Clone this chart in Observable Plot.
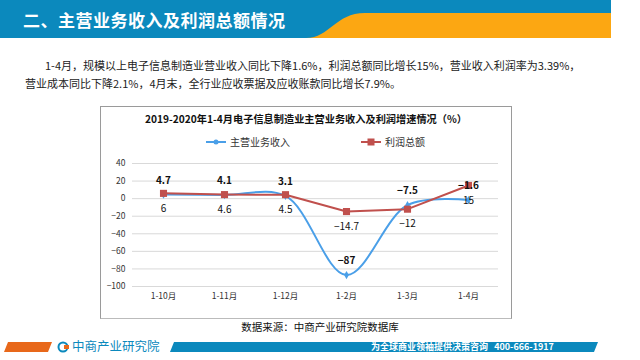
<!DOCTYPE html>
<html><head><meta charset="utf-8">
<script src="https://cdn.jsdelivr.net/npm/d3@7"></script>
<script src="https://cdn.jsdelivr.net/npm/@observablehq/plot@0.6"></script>
<style>
body{margin:0;width:640px;height:360px;position:relative;overflow:hidden;background:#fff;font-family:"Noto Sans CJK SC","Noto Sans",sans-serif;}
.abs{position:absolute;}
</style></head><body>
<svg class="abs" style="left:0;top:0" width="640" height="42">
  <rect x="0" y="0" width="611" height="38" fill="#0b89bd"/>
  <path d="M306,38 C330,38 335,13 365,13 L611,13 L611,38 Z" fill="#fca712"/>
</svg>
<div class="abs" style="left:23px;top:7px;color:#fff;font-size:17px;font-weight:bold;letter-spacing:0.5px;">二、主营业务收入及利润总额情况</div>
<div class="abs" style="left:45px;top:57px;font-size:11px;color:#222;white-space:nowrap;">1-4月，规模以上电子信息制造业营业收入同比下降1.6%，利润总额同比增长15%，营业收入利润率为3.39%，</div>
<div class="abs" style="left:25px;top:75px;font-size:11px;color:#222;white-space:nowrap;">营业成本同比下降2.1%，4月末，全行业应收票据及应收账款同比增长7.9%。</div>
<div class="abs" style="left:100px;top:106px;width:410px;height:211px;border:1px solid #9a9a9a;border-bottom-color:#bbb;"></div>
<div class="abs" style="left:100px;top:111px;width:412px;text-align:center;font-size:10.2px;font-weight:bold;color:#111;white-space:nowrap;">2019-2020年1-4月电子信息制造业主营业务收入及利润增速情况（%）</div>
<div class="abs" style="left:205px;top:134px;font-size:10px;color:#333;white-space:nowrap;display:flex;align-items:center;">
  <svg width="22" height="10"><line x1="1" x2="21" y1="5" y2="5" stroke="#4a9fe8" stroke-width="2"/><circle cx="11" cy="5" r="2.5" fill="#4a9fe8"/></svg>
  <span style="margin-left:3px">主营业务收入</span>
  <svg width="22" height="10" style="margin-left:70px"><line x1="1" x2="21" y1="5" y2="5" stroke="#c0504d" stroke-width="2"/><rect x="7.5" y="1.5" width="7" height="7" fill="#c0504d"/></svg>
  <span style="margin-left:3px">利润总额</span>
</div>
<div id="chart" class="abs" style="left:100px;top:148px;"></div>
<div class="abs" style="left:0;top:319px;width:640px;text-align:center;font-size:10.5px;color:#111;">数据来源：中商产业研究院数据库</div>
<svg class="abs" style="left:0;top:340px" width="640" height="20">
  <polygon points="8,2 52,2 48,12 4,12" fill="#e8681a"/>
  <polygon points="174,2 598,2 594,12 170,12" fill="#0b89bd"/>
  <circle cx="63" cy="7" r="4.5" fill="none" stroke="#0b89bd" stroke-width="2"/>
  <rect x="64" y="5" width="5" height="4" fill="#e8681a"/>
</svg>
<div class="abs" style="left:72px;top:339px;font-size:12.5px;color:#0b89bd;white-space:nowrap;line-height:14px;">中商产业研究院</div>
<div class="abs" style="left:371px;top:341px;font-size:9px;font-weight:bold;color:#fff;white-space:nowrap;line-height:11px;">为全球商业领袖提供决策咨询&nbsp;&nbsp;&nbsp;400-666-1917</div>
<script>
const categories = ["1-10月","1-11月","1-12月","1-2月","1-3月","1-4月"];
const revenue = [4.7, 4.1, 3.1, -87, -7.5, -1.6];
const profit = [6, 4.6, 4.5, -14.7, -12, 15];
const revenueLabels = ["4.7","4.1","3.1","-87","-7.5","-1.6"];
const profitLabels = ["6","4.6","4.5","-14.7","-12","15"];
const yTicks = [40,20,0,-20,-40,-60,-80,-100];

const rev = categories.map((c,i)=>({c, v: revenue[i], l: revenueLabels[i]}));
const pro = categories.map((c,i)=>({c, v: profit[i], l: profitLabels[i]}));

const chart = Plot.plot({
  width: 410, height: 160,
  marginLeft: 32, marginRight: 12, marginTop: 15, marginBottom: 22,
  style: {fontFamily: '"Noto Sans CJK SC", sans-serif', fontSize: "8.5px", color: "#333", background: "transparent"},
  x: {type: "point", domain: categories, padding: 0.5, label: null, tickSize: 0, tickPadding: 6},
  y: {domain: [-100, 40], ticks: yTicks, label: null, tickSize: 0, tickPadding: 7, tickFormat: d => d < 0 ? "−" + Math.abs(d) : String(d)},
  marks: [
    Plot.gridY(yTicks, {stroke: "#d9d9d9", strokeOpacity: 1, strokeWidth: 1}),
    Plot.line(rev, {x: "c", y: "v", stroke: "#4a9fe8", strokeWidth: 2, curve: "catmull-rom"}),
    Plot.dot(rev, {x: "c", y: "v", fill: "#4a9fe8", r: 2.5, symbol: "diamond"}),
    Plot.line(pro, {x: "c", y: "v", stroke: "#c0504d", strokeWidth: 2}),
    Plot.dot(pro, {x: "c", y: "v", fill: "#c0504d", r: 4, symbol: "square"}),
    Plot.text(rev, {x: "c", y: "v", text: d => d.l.replace("-", "−"), dy: -14, fill: "#111", fontWeight: "bold", fontSize: 10}),
    Plot.text(pro, {x: "c", y: "v", text: d => d.l.replace("-", "−"), dy: 15, fill: "#111", fontSize: 10})
  ]
});
document.getElementById("chart").appendChild(chart);
</script>
</body></html>
